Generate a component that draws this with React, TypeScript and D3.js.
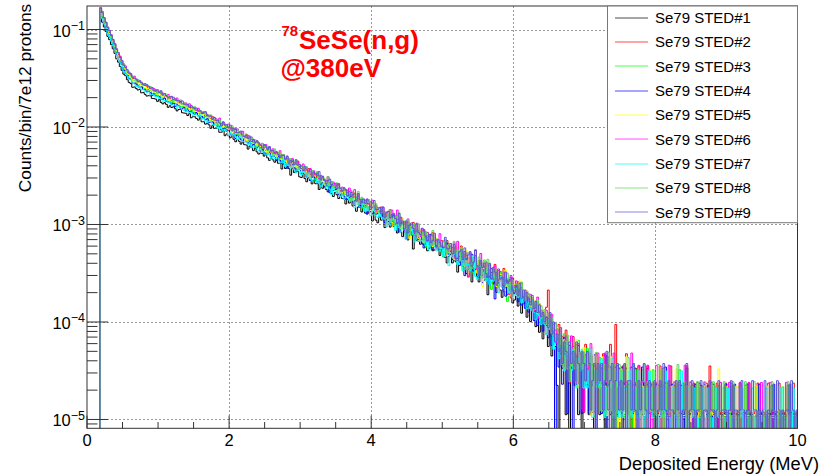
import React from 'react';
import * as d3 from 'd3';

const WIDTH = 827;
const HEIGHT = 476;
const FRAME = { left: 87, right: 797.5, top: 6, bottom: 428.3 };
const FONT = '"Liberation Sans", Arial, Helvetica, sans-serif';

const energyDomain: [number, number] = [0, 10];
const valueDomain: [number, number] = [8.12e-6, 0.1742];
const binStart = 0.18;
const binWidth = 0.025;

const seriesNames = ['Se79 STED#1', 'Se79 STED#2', 'Se79 STED#3', 'Se79 STED#4', 'Se79 STED#5', 'Se79 STED#6', 'Se79 STED#7', 'Se79 STED#8', 'Se79 STED#9'];
const seriesColors = ['#000000', '#ff0000', '#00ff00', '#0000ff', '#ffff00', '#ff00ff', '#00ffff', '#59d454', '#5954d9'];
// normalisation of one count to counts/bin/7e12 protons, per run
const seriesUnits = [1.12e-5, 1.18e-5, 1.08e-5, 1.15e-5, 1.10e-5, 1.20e-5, 1.05e-5, 1.22e-5, 1.25e-5];

const sted1 = [12050, 10610, 9480, 8520, 7580, 7020, 6250, 5660, 5080, 4460, 4130, 3730, 3400, 3110, 3000, 2730, 2560, 2490, 2280, 2300,
  2220, 2140, 2170, 2000, 2020, 1930, 1855, 1870, 1865, 1755, 1745, 1725, 1635, 1700, 1595, 1540, 1585, 1525, 1420, 1475,
  1415, 1440, 1375, 1305, 1350, 1360, 1250, 1240, 1235, 1170, 1220, 1110, 1140, 1135, 1090, 1050, 1095, 1010, 1010, 955,
  975, 940, 865, 920, 865, 867, 863, 788, 790, 818, 727, 758, 726, 692, 743, 667, 630, 665, 637, 596,
  628, 588, 584, 530, 569, 552, 511, 543, 496, 471, 483, 478, 449, 480, 431, 406, 430, 411, 389, 406,
  379, 379, 331, 373, 335, 352, 334, 286, 338, 304, 310, 312, 275, 271, 298, 264, 245, 269, 254, 233,
  254, 234, 234, 204, 230, 210, 218, 204, 193, 217, 186, 173, 190, 180, 165, 181, 165, 166, 145, 162,
  148, 155, 138, 156, 122, 135, 140, 120, 144, 117, 117, 121, 121, 97, 118, 99, 93, 109, 99, 100,
  83, 100, 96, 84, 98, 85, 91, 73, 94, 75, 67, 77, 73, 62, 76, 70, 50, 72, 61, 65,
  56, 63, 55, 67, 48, 51, 59, 48, 49, 54, 49, 43, 48, 42, 50, 36, 42, 44, 36, 46,
  37, 29, 37, 42, 33, 44, 28, 31, 34, 23, 36, 31, 26, 23, 33, 27, 24, 29, 17, 26,
  25, 22, 30, 18, 24, 19, 16, 21, 24, 17, 19, 20, 14,
  15, 19, 13, 17, 11, 16, 14, 10, 13, 9, 12, 14, 8, 11, 7, 10, 6, 9, 10, 5, 8, 4, 7, 5,
  2, 0, 6, 3, 5, 1, 4, 0, 3, 5, 2, 4, 1, 3, 0, 4, 2, 3, 1, 4, 2, 0, 3, 2,
  1, 3, 2, 0, 4, 2, 1, 3, 0, 2, 1, 3,
  2, 0, 1, 3, 2, 1, 0, 2, 3, 1, 2, 0, 1, 2, 1, 3, 0, 1, 2, 1,
  0, 2, 1, 1, 3, 0, 1, 2, 1, 0, 2, 1, 1, 0, 2, 1, 0, 3, 1, 1,
  2, 0, 1, 1, 0, 2, 1, 0, 1, 2, 1, 0, 1, 1, 0, 2, 1, 1, 0, 1,
  1, 0, 1, 2, 0, 1, 1, 0, 1, 0, 2, 1, 0, 1, 1, 0, 1, 0, 1, 1,
  0, 1, 1, 0, 1, 2, 0, 1, 0, 1, 1, 0, 1, 0, 2, 1, 0, 1, 0, 1];

const sted2 = [13830, 12280, 10780, 9830, 8740, 7910, 7300, 6400, 5840, 5230, 4690, 4440, 3870, 3690, 3330, 3060, 2970, 2890, 2670, 2625,
  2570, 2415, 2470, 2330, 2255, 2280, 2205, 2070, 2110, 2030, 2040, 1960, 1875, 1915, 1935, 1780, 1760, 1760, 1665, 1730,
  1580, 1620, 1615, 1545, 1490, 1550, 1440, 1445, 1370, 1405, 1360, 1255, 1345, 1270, 1270, 1260, 1180, 1170, 1195, 1090,
  1115, 1075, 1035, 1080, 990, 933, 985, 944, 882, 930, 870, 864, 784, 841, 816, 757, 804, 735, 698, 716,
  708, 664, 711, 638, 603, 636, 610, 577, 600, 562, 558, 507, 544, 527, 489, 518, 474, 450, 463, 466,
  442, 413, 395, 441, 400, 382, 400, 333, 375, 362, 344, 379, 312, 339, 307, 286, 307, 317, 277, 285,
  286, 252, 286, 255, 240, 259, 245, 212, 237, 220, 232, 214, 194, 214, 220, 189, 188, 191, 173, 191,
  159, 173, 178, 162, 149, 176, 145, 152, 132, 150, 139, 111, 145, 126, 131, 133, 111, 116, 128, 101,
  115, 107, 99, 120, 96, 84, 104, 95, 81, 100, 86, 88, 68, 89, 85, 71, 89, 71, 63, 73,
  73, 64, 75, 55, 63, 67, 54, 70, 57, 59, 47, 55, 58, 49, 40, 58, 43, 46, 49, 43,
  50, 38, 35, 51, 40, 36, 43, 25, 39, 37, 34, 46, 27, 36, 29, 24, 31, 35, 25, 29,
  30, 21, 33, 24, 21, 28, 22, 30, 19, 22, 23, 15, 24,
  20, 16, 22, 17, 19, 13, 18, 15, 16, 12, 15, 11, 14, 9, 13, 10, 11, 8, 12, 18, 9, 6, 8, 7,
  5, 8, 4, 6, 3, 7, 5, 2, 4, 6, 3, 5, 2, 4, 3, 1, 5, 3, 2, 4, 1, 3, 4, 2,
  3, 2, 4, 1, 3, 2, 5, 2, 1, 8, 3, 2,
  1, 3, 2, 4, 1, 2, 0, 3, 2, 1, 3, 2, 0, 2, 1, 3, 2, 1, 2, 0,
  2, 1, 3, 1, 0, 2, 2, 1, 3, 0, 1, 2, 1, 1, 0, 2, 1, 3, 1, 0,
  1, 2, 0, 1, 2, 1, 1, 0, 2, 1, 3, 0, 1, 1, 2, 0, 1, 1, 0, 2,
  1, 0, 2, 1, 1, 0, 1, 2, 0, 1, 1, 0, 2, 1, 0, 1, 1, 2, 0, 1,
  1, 1, 0, 2, 0, 1, 1, 0, 1, 2, 0, 1, 1, 0, 1, 0, 1, 2, 0, 1];

const sted3 = [14480, 12590, 11290, 9940, 8880, 8200, 7550, 6670, 5990, 5400, 4790, 4530, 4050, 3690, 3520, 3250, 2950, 2930, 2770, 2755,
  2620, 2480, 2505, 2490, 2330, 2295, 2280, 2160, 2200, 2050, 2070, 2050, 1975, 1900, 1980, 1835, 1845, 1740, 1790, 1730,
  1595, 1710, 1615, 1620, 1605, 1500, 1495, 1530, 1405, 1440, 1395, 1345, 1405, 1300, 1280, 1310, 1205, 1235, 1135, 1185,
  1155, 1085, 1090, 1055, 1000, 1034, 926, 1002, 929, 876, 950, 869, 870, 790, 846, 819, 763, 808, 762, 695,
  718, 725, 672, 708, 629, 632, 640, 573, 621, 585, 556, 535, 573, 530, 512, 521, 459, 495, 476, 456,
  493, 414, 448, 407, 380, 408, 421, 368, 377, 380, 334, 379, 338, 318, 344, 325, 282, 314, 291, 308,
  284, 258, 283, 293, 251, 248, 254, 229, 254, 213, 229, 231, 214, 202, 222, 189, 203, 187, 200, 185,
  168, 192, 166, 174, 177, 148, 154, 170, 134, 153, 142, 131, 158, 128, 116, 135, 126, 112, 129, 114,
  116, 95, 116, 112, 97, 118, 95, 84, 96, 98, 85, 100, 72, 83, 88, 72, 93, 74, 78, 62,
  72, 78, 66, 54, 77, 58, 61, 65, 58, 66, 53, 58, 48, 43, 55, 51, 48, 59, 41, 49,
  46, 36, 48, 38, 31, 41, 47, 33, 38, 40, 29, 44, 33, 28, 38, 30, 40, 26, 29, 32,
  20, 32, 28, 23, 21, 30, 24, 22, 26, 15, 24, 22, 20,
  21, 18, 23, 16, 20, 17, 15, 18, 14, 17, 12, 15, 13, 10, 13, 11, 10, 12, 7, 9, 11, 6, 8, 7,
  7, 5, 6, 4, 7, 3, 5, 4, 5, 3, 4, 2, 6, 3, 4, 2, 3, 5, 2, 3, 4, 1, 3, 2,
  4, 2, 3, 1, 3, 4, 2, 0, 3, 2, 1, 3,
  2, 3, 1, 2, 4, 1, 2, 0, 3, 2, 1, 2, 3, 1, 0, 2, 2, 1, 3, 1,
  1, 2, 0, 3, 1, 2, 1, 1, 2, 0, 2, 1, 1, 3, 0, 1, 2, 1, 0, 2,
  1, 1, 2, 0, 1, 2, 1, 0, 1, 1, 2, 1, 0, 2, 1, 1, 0, 1, 2, 0,
  1, 2, 0, 1, 1, 0, 2, 1, 1, 0, 1, 1, 2, 0, 1, 0, 1, 2, 1, 0,
  1, 0, 1, 1, 2, 0, 1, 0, 1, 1, 0, 2, 1, 0, 1, 1, 0, 1, 1, 0];

const sted4 = [13010, 11470, 10040, 9100, 8150, 7260, 6760, 6040, 5450, 4850, 4320, 4040, 3800, 3350, 3100, 2945, 2700, 2685, 2450, 2450,
  2400, 2295, 2200, 2245, 2110, 2095, 2000, 2015, 1950, 1825, 1900, 1815, 1800, 1780, 1680, 1675, 1720, 1600, 1575, 1570,
  1485, 1525, 1410, 1470, 1440, 1360, 1350, 1385, 1270, 1325, 1250, 1250, 1210, 1170, 1225, 1130, 1090, 1115, 1075, 1030,
  1055, 965, 980, 975, 915, 968, 883, 884, 809, 833, 844, 785, 825, 736, 737, 742, 663, 720, 680, 644,
  622, 663, 615, 595, 609, 534, 576, 557, 533, 565, 492, 516, 480, 454, 472, 479, 434, 438, 436, 399,
  435, 393, 370, 401, 379, 329, 366, 339, 359, 331, 301, 329, 342, 291, 290, 295, 267, 295, 246, 266,
  269, 249, 236, 259, 227, 233, 211, 227, 215, 184, 217, 195, 199, 200, 177, 174, 192, 170, 158, 173,
  164, 184, 148, 136, 157, 147, 130, 150, 134, 136, 111, 135, 130, 112, 132, 111, 112, 104, 124, 100,
  91, 106, 100, 88, 101, 108, 87, 91, 73, 84, 90, 76, 62, 89, 67, 71, 76, 67, 76, 61,
  66, 56, 50, 64, 60, 57, 69, 48, 57, 53, 49, 48, 48, 51, 40, 56, 43, 46, 38, 43,
  40, 39, 33, 44, 39, 26, 39, 32, 35, 43, 29, 30, 33, 25, 35, 22, 32, 25, 28, 21,
  28, 24, 15, 28, 22, 24, 25, 18, 16, 23, 20, 18, 20,
  17, 20, 14, 18, 13, 16, 12, 15, 11, 14, 12, 9, 13, 8, 11, 10, 7, 10, 8, 6, 9, 5, 7, 0,
  6, 3, 5, 2, 6, 4, 1, 5, 3, 0, 4, 2, 5, 3, 1, 3, 4, 2, 1, 3, 2, 4, 0, 2,
  3, 1, 2, 4, 0, 2, 3, 1, 2, 3, 0, 2,
  1, 3, 2, 0, 2, 1, 3, 1, 2, 0, 1, 2, 3, 1, 0, 2, 1, 2, 1, 0,
  2, 1, 0, 2, 1, 3, 1, 0, 1, 2, 1, 0, 2, 1, 1, 0, 2, 1, 0, 1,
  1, 0, 2, 1, 0, 1, 1, 2, 0, 1, 1, 0, 2, 1, 0, 1, 1, 0, 1, 2,
  0, 1, 1, 0, 2, 1, 0, 1, 1, 0, 1, 2, 0, 1, 0, 1, 1, 0, 2, 1,
  0, 1, 0, 1, 1, 0, 2, 1, 0, 1, 0, 1, 1, 0, 1, 2, 0, 1, 0, 1];

const sted5 = [14590, 13190, 11350, 10160, 9220, 8260, 7690, 6750, 6110, 5510, 4930, 4430, 4270, 3780, 3550, 3235, 3150, 2965, 2735, 2790,
  2655, 2610, 2565, 2420, 2390, 2410, 2250, 2270, 2190, 2125, 2175, 2045, 1970, 2015, 1945, 1850, 1915, 1820, 1805, 1685,
  1765, 1725, 1630, 1695, 1580, 1520, 1545, 1525, 1455, 1495, 1375, 1395, 1380, 1315, 1375, 1280, 1280, 1200, 1215, 1210,
  1145, 1180, 1080, 1075, 1075, 968, 1049, 993, 937, 906, 968, 895, 861, 882, 775, 834, 810, 774, 823, 715,
  750, 698, 660, 685, 697, 632, 638, 635, 579, 625, 574, 548, 573, 546, 494, 526, 496, 512, 482, 447,
  476, 495, 423, 421, 430, 389, 430, 359, 387, 392, 363, 342, 380, 331, 339, 306, 329, 312, 267, 317,
  285, 291, 292, 258, 261, 278, 236, 254, 236, 250, 233, 209, 229, 218, 197, 206, 194, 217, 187, 174,
  191, 188, 163, 193, 162, 148, 163, 162, 145, 164, 128, 142, 148, 125, 151, 122, 131, 111, 120, 121,
  125, 107, 107, 121, 95, 84, 114, 100, 89, 83, 105, 89, 83, 93, 65, 87, 83, 76, 93, 65,
  79, 69, 59, 70, 76, 60, 68, 54, 60, 66, 55, 55, 61, 56, 43, 55, 47, 55, 48, 40,
  50, 59, 39, 41, 45, 34, 49, 29, 39, 43, 34, 38, 29, 38, 34, 21, 38, 29, 32, 34,
  24, 27, 33, 21, 26, 28, 23, 24, 31, 21, 17, 24, 22,
  22, 17, 20, 24, 16, 19, 15, 18, 17, 13, 16, 12, 15, 11, 14, 10, 12, 9, 11, 8, 10, 7, 9, 6,
  8, 5, 7, 4, 6, 5, 3, 6, 4, 5, 3, 6, 2, 4, 3, 5, 2, 4, 3, 1, 5, 3, 2, 4,
  3, 2, 4, 2, 1, 3, 2, 4, 1, 3, 2, 0,
  3, 2, 1, 4, 2, 1, 3, 2, 0, 2, 3, 1, 2, 1, 2, 0, 3, 1, 2, 2,
  1, 2, 1, 0, 3, 1, 2, 1, 2, 0, 1, 3, 1, 2, 0, 1, 1, 2, 1, 0,
  2, 1, 1, 0, 2, 1, 1, 2, 0, 1, 1, 2, 1, 0, 1, 3, 1, 0, 1, 1,
  2, 1, 0, 1, 1, 2, 0, 1, 1, 0, 2, 1, 1, 0, 1, 1, 2, 0, 1, 1,
  0, 1, 2, 1, 0, 1, 1, 0, 2, 1, 0, 1, 1, 2, 0, 1, 0, 1, 1, 0];

const sted6 = [13980, 12790, 11040, 9920, 8820, 8150, 7390, 6520, 6000, 5290, 4810, 4450, 3970, 3700, 3520, 3130, 3050, 2880, 2730, 2770,
  2570, 2460, 2485, 2400, 2300, 2325, 2225, 2195, 2065, 2120, 2065, 1970, 2015, 1905, 1830, 1855, 1835, 1750, 1795, 1645,
  1675, 1680, 1575, 1650, 1540, 1535, 1440, 1470, 1470, 1400, 1440, 1325, 1325, 1325, 1225, 1295, 1235, 1185, 1145, 1190,
  1125, 1085, 1095, 995, 1040, 1012, 967, 1028, 898, 936, 872, 825, 894, 807, 825, 792, 729, 796, 743, 716,
  753, 671, 651, 684, 640, 655, 624, 574, 601, 575, 544, 565, 507, 550, 506, 518, 461, 497, 455, 450,
  431, 476, 413, 425, 384, 413, 392, 334, 395, 356, 364, 366, 323, 328, 348, 295, 318, 295, 313, 268,
  296, 273, 274, 239, 266, 252, 236, 236, 258, 223, 214, 227, 200, 220, 208, 183, 201, 193, 191, 178,
  197, 184, 157, 190, 153, 164, 138, 150, 152, 125, 151, 145, 126, 148, 125, 114, 124, 125, 112, 125,
  99, 109, 114, 97, 117, 104, 96, 117, 82, 99, 84, 73, 87, 95, 74, 77, 82, 61, 86, 70,
  63, 76, 69, 59, 69, 52, 64, 64, 56, 57, 48, 67, 50, 48, 55, 48, 44, 53, 39, 54,
  37, 56, 39, 44, 34, 44, 40, 24, 44, 34, 38, 40, 29, 32, 42, 29, 24, 34, 28, 32,
  25, 22, 31, 22, 28, 25, 19, 27, 22, 23, 16, 25, 19,
  19, 22, 16, 18, 21, 14, 17, 15, 13, 16, 14, 11, 12, 15, 9, 11, 10, 8, 11, 9, 7, 10, 6, 8,
  5, 7, 6, 3, 5, 6, 4, 3, 6, 3, 4, 2, 5, 3, 4, 1, 3, 4, 2, 5, 3, 1, 2, 4,
  2, 3, 1, 4, 2, 3, 0, 2, 4, 1, 3, 2,
  2, 1, 3, 2, 0, 2, 4, 1, 2, 1, 3, 0, 2, 2, 1, 3, 1, 0, 2, 1,
  3, 1, 2, 0, 1, 2, 1, 3, 0, 1, 2, 1, 0, 2, 1, 1, 3, 0, 1, 2,
  1, 0, 1, 2, 1, 1, 0, 2, 1, 0, 1, 2, 1, 1, 0, 1, 2, 0, 1, 1,
  0, 2, 1, 1, 0, 1, 1, 2, 0, 1, 0, 1, 2, 1, 0, 1, 1, 0, 1, 2,
  1, 0, 1, 0, 2, 1, 0, 1, 1, 0, 1, 1, 0, 2, 1, 0, 1, 1, 0, 1];

const sted7 = [13920, 12250, 10860, 9830, 8640, 7980, 7240, 6480, 5910, 5190, 4640, 4340, 3965, 3530, 3415, 3180, 2920, 2900, 2690, 2625,
  2465, 2510, 2430, 2295, 2300, 2215, 2160, 2185, 2035, 2045, 2030, 1930, 1980, 1870, 1865, 1750, 1780, 1785, 1695, 1750,
  1605, 1605, 1605, 1485, 1565, 1500, 1435, 1400, 1460, 1380, 1340, 1355, 1240, 1295, 1265, 1225, 1270, 1145, 1175, 1110,
  1060, 1080, 1085, 1005, 1005, 997, 916, 988, 908, 865, 905, 864, 781, 831, 784, 810, 761, 708, 747, 758,
  677, 670, 674, 625, 663, 584, 610, 610, 575, 548, 584, 528, 533, 494, 515, 493, 442, 490, 453, 455,
  458, 407, 413, 441, 374, 403, 382, 360, 403, 347, 323, 354, 336, 307, 336, 321, 290, 321, 284, 266,
  279, 278, 256, 275, 232, 246, 251, 224, 252, 220, 193, 226, 212, 198, 222, 183, 198, 172, 180, 192,
  169, 168, 175, 141, 175, 158, 144, 144, 170, 129, 147, 131, 117, 131, 140, 117, 112, 126, 114, 108,
  111, 90, 123, 94, 106, 105, 83, 109, 89, 80, 96, 88, 67, 86, 75, 87, 76, 63, 78, 85,
  64, 66, 69, 58, 72, 52, 61, 65, 57, 51, 65, 51, 54, 45, 54, 50, 36, 53, 44, 47,
  49, 37, 40, 51, 32, 43, 37, 37, 32, 39, 46, 28, 26, 35, 35, 27, 31, 25, 35, 23,
  30, 25, 28, 25, 19, 28, 22, 21, 27, 23, 19, 23, 17,
  18, 21, 17, 19, 15, 18, 16, 13, 15, 13, 16, 12, 10, 13, 11, 9, 11, 9, 7, 10, 8, 9, 5, 7,
  6, 4, 7, 5, 3, 6, 4, 5, 3, 5, 4, 2, 4, 3, 5, 2, 4, 2, 3, 5, 1, 3, 2, 3,
  2, 4, 3, 1, 2, 3, 2, 4, 1, 2, 3, 1,
  3, 1, 2, 2, 0, 3, 1, 2, 2, 1, 3, 1, 2, 0, 2, 1, 3, 2, 1, 1,
  2, 0, 1, 2, 1, 3, 1, 1, 0, 2, 1, 2, 0, 1, 3, 1, 1, 0, 2, 1,
  1, 2, 1, 0, 1, 1, 2, 0, 1, 2, 1, 0, 1, 1, 2, 1, 0, 1, 1, 0,
  2, 1, 0, 1, 1, 0, 1, 1, 2, 0, 1, 1, 0, 1, 2, 1, 0, 1, 0, 1,
  1, 0, 2, 1, 0, 1, 1, 0, 1, 1, 2, 0, 1, 0, 1, 1, 0, 2, 1, 0];

const sted8 = [13760, 12250, 10670, 9700, 8640, 7880, 7060, 6500, 5785, 5120, 4715, 4215, 3830, 3615, 3365, 3080, 2995, 2720, 2680, 2625,
  2470, 2530, 2370, 2340, 2215, 2225, 2210, 2105, 2135, 1980, 1975, 1975, 1820, 1915, 1835, 1760, 1710, 1780, 1690, 1640,
  1660, 1515, 1585, 1545, 1495, 1555, 1405, 1450, 1375, 1315, 1350, 1360, 1250, 1320, 1235, 1180, 1210, 1170, 1170, 1115,
  1055, 1085, 1090, 1000, 985, 985, 916, 969, 855, 892, 882, 825, 825, 768, 846, 752, 744, 761, 671, 706,
  692, 647, 695, 632, 609, 642, 565, 604, 573, 556, 502, 557, 515, 518, 480, 463, 483, 453, 487, 423,
  449, 429, 392, 429, 394, 394, 344, 387, 373, 337, 374, 331, 309, 326, 323, 298, 320, 270, 286, 292,
  260, 261, 286, 249, 219, 257, 241, 225, 253, 208, 225, 195, 203, 219, 192, 197, 178, 192, 182, 169,
  172, 141, 171, 165, 154, 179, 137, 156, 138, 124, 139, 148, 123, 134, 122, 134, 117, 109, 118, 112,
  93, 111, 95, 115, 94, 97, 81, 100, 108, 82, 83, 88, 73, 92, 65, 79, 82, 72, 65, 83,
  64, 69, 57, 69, 63, 59, 52, 71, 52, 58, 55, 48, 49, 49, 57, 42, 51, 47, 43, 55,
  42, 45, 35, 48, 39, 41, 28, 42, 34, 29, 36, 37, 30, 38, 24, 31, 34, 25, 36, 27,
  25, 28, 23, 28, 19, 26, 27, 20, 20, 26, 18, 21, 22,
  17, 20, 18, 15, 21, 16, 14, 17, 16, 12, 14, 13, 11, 14, 10, 12, 9, 11, 8, 10, 7, 9, 6, 8,
  7, 5, 6, 3, 5, 4, 6, 2, 4, 3, 5, 3, 2, 4, 3, 4, 2, 3, 4, 1, 3, 2, 4, 2,
  3, 1, 2, 3, 2, 4, 1, 2, 3, 0, 2, 3,
  1, 2, 3, 1, 2, 0, 2, 3, 1, 2, 1, 0, 2, 3, 1, 2, 1, 1, 2, 0,
  1, 3, 1, 2, 0, 1, 2, 1, 1, 0, 2, 1, 3, 0, 1, 1, 2, 0, 1, 2,
  1, 1, 0, 2, 1, 0, 1, 2, 1, 1, 0, 1, 2, 0, 1, 1, 1, 0, 2, 1,
  1, 0, 1, 2, 0, 1, 1, 0, 1, 1, 2, 0, 1, 1, 0, 2, 1, 0, 1, 1,
  0, 1, 1, 0, 1, 2, 1, 0, 1, 0, 1, 1, 0, 1, 2, 0, 1, 1, 0, 1];

const sted9 = [13350, 11860, 10570, 9460, 8440, 7785, 6930, 6320, 5680, 5010, 4630, 4140, 3860, 3445, 3265, 3105, 2855, 2830, 2590, 2535,
  2490, 2330, 2380, 2280, 2195, 2130, 2175, 2080, 2015, 2010, 1870, 1920, 1870, 1815, 1885, 1705, 1755, 1665, 1595, 1635,
  1650, 1535, 1555, 1495, 1490, 1410, 1480, 1375, 1370, 1365, 1275, 1325, 1275, 1235, 1250, 1170, 1170, 1105, 1140, 1145,
  1045, 1035, 1030, 970, 1005, 931, 941, 874, 819, 903, 840, 843, 787, 837, 732, 779, 767, 697, 699, 726,
  645, 639, 655, 612, 645, 566, 594, 557, 578, 547, 522, 485, 527, 512, 472, 504, 459, 460, 427, 447,
  419, 390, 411, 409, 376, 404, 341, 362, 368, 328, 370, 326, 330, 300, 286, 317, 294, 277, 294, 244,
  276, 267, 253, 279, 230, 249, 227, 210, 226, 234, 203, 209, 210, 186, 210, 188, 176, 191, 180, 156,
  174, 155, 162, 167, 139, 166, 144, 133, 146, 132, 146, 131, 114, 133, 141, 114, 114, 118, 103, 121,
  94, 106, 109, 94, 101, 104, 92, 82, 104, 81, 87, 72, 87, 66, 79, 83, 73, 67, 81, 66,
  63, 73, 69, 61, 54, 63, 52, 55, 65, 47, 56, 52, 47, 54, 59, 45, 45, 48, 40, 50,
  36, 34, 42, 44, 35, 46, 35, 39, 41, 30, 33, 44, 30, 24, 34, 29, 32, 25, 23, 32,
  22, 29, 26, 19, 28, 22, 23, 16, 26, 20, 21, 23, 17,
  16, 19, 15, 20, 14, 17, 13, 16, 14, 12, 15, 11, 13, 10, 12, 9, 10, 8, 9, 7, 10, 6, 8, 5,
  6, 4, 7, 3, 5, 4, 2, 5, 3, 4, 2, 5, 3, 1, 4, 3, 2, 4, 3, 1, 2, 3, 0, 3,
  2, 3, 1, 2, 4, 1, 2, 3, 0, 2, 3, 1,
  2, 1, 3, 0, 2, 2, 1, 3, 1, 0, 2, 1, 2, 3, 1, 0, 2, 1, 1, 2,
  0, 1, 2, 1, 3, 1, 0, 2, 1, 1, 0, 2, 1, 2, 0, 1, 1, 3, 0, 1,
  2, 1, 0, 1, 1, 2, 0, 1, 1, 0, 2, 1, 1, 0, 1, 2, 0, 1, 1, 1,
  0, 1, 2, 0, 1, 1, 0, 1, 2, 1, 0, 1, 1, 0, 2, 1, 1, 0, 1, 0,
  1, 2, 0, 1, 0, 1, 1, 0, 2, 1, 0, 1, 0, 1, 1, 0, 2, 1, 0, 1];

const seriesCounts = [sted1, sted2, sted3, sted4, sted5, sted6, sted7, sted8, sted9];

const xMajorTicks = [0, 2, 4, 6, 8, 10];
const xTickLabels = ['0', '2', '4', '6', '8', '10'];
const xMinorStep = 0.5;
const yDecades = [1e-5, 1e-4, 1e-3, 1e-2, 1e-1];
const yDecadeExponents = ['\u22125', '\u22124', '\u22123', '\u22122', '\u22121'];

const xTitle = 'Deposited Energy (MeV)';
const yTitle = 'Counts/bin/7e12 protons';

export default function App() {
  const x = d3.scaleLinear().domain(energyDomain).range([FRAME.left, FRAME.right]);
  const y = d3.scaleLog().domain(valueDomain).range([FRAME.bottom, FRAME.top]);
  const below = FRAME.bottom + 2;

  const line = d3.line<[number, number]>().x(d => d[0]).y(d => d[1]).curve(d3.curveStepAfter);
  const paths = seriesCounts.map((counts, s) => {
    const unit = seriesUnits[s];
    const pts: [number, number][] = [[x(0), below]];
    counts.forEach((c, k) => {
      pts.push([x(binStart + k * binWidth), c > 0 ? y(c * unit) : below]);
    });
    pts.push([x(binStart + counts.length * binWidth), pts[pts.length - 1][1]]);
    return line(pts) || '';
  });

  const xMinor = d3.range(0, energyDomain[1] + 1e-9, xMinorStep).filter(v => !xMajorTicks.includes(v));
  const yMinor: number[] = [];
  for (let e = -6; e <= -1; e++) {
    for (let m = 2; m <= 9; m++) {
      const v = m * Math.pow(10, e);
      if (v > valueDomain[0] && v < valueDomain[1]) yMinor.push(v);
    }
  }

  const legendX = 607.5, legendY = 6, legendW = 190, legendH = 216.7;
  const rowY = (i: number) => 17.7 + i * 24.33;

  return (
    <svg width={WIDTH} height={HEIGHT} style={{ position: 'absolute', left: 0, top: 0, background: '#fff' }} fontFamily={FONT}>
      <defs>
        <clipPath id="frameClip">
          <rect x={FRAME.left} y={FRAME.top} width={FRAME.right - FRAME.left} height={FRAME.bottom - FRAME.top} />
        </clipPath>
      </defs>
      <rect x={0} y={0} width={WIDTH} height={HEIGHT} fill="#fff" />
      <g stroke="#9a9a9a" strokeWidth={1} strokeDasharray="2 2">
        {xMajorTicks.filter(v => v > 0 && v < 10).map(v => (
          <line key={'gx' + v} x1={Math.round(x(v)) + 0.5} x2={Math.round(x(v)) + 0.5} y1={FRAME.top} y2={FRAME.bottom} />
        ))}
        {yDecades.map(v => (
          <line key={'gy' + v} x1={FRAME.left} x2={FRAME.right} y1={Math.round(y(v)) + 0.5} y2={Math.round(y(v)) + 0.5} />
        ))}
      </g>
      <g clipPath="url(#frameClip)" fill="none" strokeWidth={1}>
        {paths.map((p, i) => (
          <path key={i} d={p} stroke={seriesColors[i]} />
        ))}
      </g>
      <rect x={FRAME.left} y={FRAME.top} width={FRAME.right - FRAME.left} height={FRAME.bottom - FRAME.top} fill="none" stroke="#333" strokeWidth={1} />
      <g stroke="#333" strokeWidth={1}>
        {xMajorTicks.map(v => (
          <line key={'xt' + v} x1={x(v)} x2={x(v)} y1={FRAME.bottom} y2={FRAME.bottom - 12.7} />
        ))}
        {xMinor.map(v => (
          <line key={'xm' + v} x1={x(v)} x2={x(v)} y1={FRAME.bottom} y2={FRAME.bottom - 6.3} />
        ))}
        {yDecades.map(v => (
          <line key={'yt' + v} x1={FRAME.left} x2={FRAME.left + 21} y1={y(v)} y2={y(v)} />
        ))}
        {yMinor.map(v => (
          <line key={'ym' + v} x1={FRAME.left} x2={FRAME.left + 10.5} y1={y(v)} y2={y(v)} />
        ))}
      </g>
      <g fontSize={16.5} textAnchor="middle" fill="#000">
        {xMajorTicks.map((v, i) => (
          <text key={'xl' + v} x={x(v)} y={446}>{xTickLabels[i]}</text>
        ))}
      </g>
      <g fill="#000">
        {yDecades.map((v, i) => (
          <text key={'yl' + v} x={85} y={y(v) + 7} textAnchor="end" fontSize={16.5}>
            <tspan>10</tspan>
            <tspan dy={-6.5} fontSize={12.5}>{yDecadeExponents[i]}</tspan>
          </text>
        ))}
      </g>
      <text x={819} y={470} textAnchor="end" fontSize={18.3} fill="#000">{xTitle}</text>
      <text transform="translate(31,98) rotate(-90)" textAnchor="middle" fontSize={17.3} fill="#000">{yTitle}</text>
      <rect x={legendX} y={legendY} width={legendW} height={legendH} fill="#fff" stroke="#777" strokeWidth={1} />
      {seriesNames.map((name, i) => (
        <g key={name}>
          <line x1={615} x2={648} y1={Math.round(rowY(i))} y2={Math.round(rowY(i))} stroke={seriesColors[i]} strokeWidth={1} strokeOpacity={0.7} />
          <text x={655} y={rowY(i) + 5.3} fontSize={15} fill="#000">{name}</text>
        </g>
      ))}
      <g fill="#ff0000" fontWeight="bold">
        <text x={281.5} y={36} fontSize={15}>78</text>
        <text x={299} y={48.5} fontSize={26}>SeSe(n,g)</text>
        <text x={280.5} y={77} fontSize={26}>@380eV</text>
      </g>
    </svg>
  );
}
